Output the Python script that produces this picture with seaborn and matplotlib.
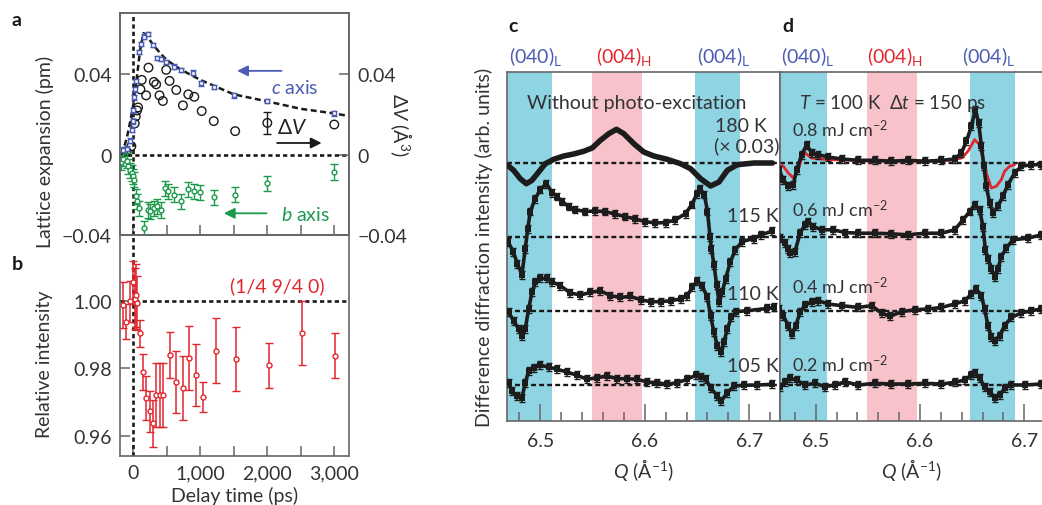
import numpy as np
import matplotlib
matplotlib.use("Agg")
import matplotlib.pyplot as plt
import seaborn as sns
from matplotlib.ticker import FixedLocator, NullFormatter

# ---------------- panel a: lattice expansion ----------------
c_t = [-190, -150, -100, -50, -25, -10, 0, 10, 25, 40, 90, 115, 160, 225, 300, 360, 410,
       490, 610, 710, 890, 1010, 1200, 1500, 2000, 3000]
c_v = [0.0022, 0.0025, 0.0030, 0.0070, 0.0125, 0.0165, 0.022, 0.0285, 0.0325, 0.0367, 0.051,
       0.055, 0.0588, 0.060, 0.0545, 0.048, 0.0475, 0.046, 0.0438, 0.0422, 0.0408, 0.0355,
       0.0338, 0.0295, 0.0267, 0.0205]
fit_t = [-175, -100, -50, 0, 50, 100, 150, 200, 300, 400, 500, 700, 1000, 1500, 2000, 2500, 3000, 3220]
fit_v = [0.0, 0.008, 0.016, 0.025, 0.038, 0.052, 0.0605, 0.059, 0.0545, 0.0505, 0.047, 0.0425,
         0.0372, 0.030, 0.0265, 0.0228, 0.0205, 0.0192]
dv_t = [-190, -150, -100, -30, 20, 35, 55, 70, 105, 125, 190, 225, 305, 340, 390, 440, 490, 540,
        640, 740, 820, 910, 1020, 1200, 1520, 2000, 3000]
dv_v = [0.0008, 0.0012, 0.0015, 0.0042, 0.0155, 0.019, 0.022, 0.0235, 0.0325, 0.0372, 0.0295,
        0.0433, 0.0362, 0.035, 0.0295, 0.0267, 0.0422, 0.0367, 0.0322, 0.0245, 0.030, 0.0288,
        0.0217, 0.0167, 0.0117, 0.0158, 0.015]
b_t = [-190, -150, -100, -75, -50, -25, 0, 15, 40, 50, 90, 165, 215, 255, 305, 355, 415, 475, 515,
       610, 710, 820, 910, 1000, 1200, 1520, 2000, 3000]
b_v = [-0.0038, -0.002, -0.003, -0.0058, -0.0078, -0.0092, -0.0108, -0.0125, -0.0208, -0.0233,
       -0.0267, -0.0367, -0.0275, -0.0283, -0.0267, -0.0258, -0.0275, -0.0167, -0.0183, -0.020,
       -0.0233, -0.0172, -0.0183, -0.0188, -0.0212, -0.020, -0.0142, -0.0087]

# ---------------- panel b: relative intensity (1/4 9/4 0) ----------------
i_t = [-153, -104, -50, -5, 20, 45, 60, 94, 144, 193, 243, 292, 342, 391, 441, 540, 639, 738,
       837, 936, 1035, 1233, 1530, 2025, 2520, 3015]
i_v = [0.9987, 0.9938, 0.9998, 1.0054, 1.0005, 1.0015, 0.9993, 0.9903, 0.9788, 0.9711, 0.9672,
       0.9637, 0.9721, 0.9721, 0.9721, 0.9839, 0.9760, 0.9741, 0.9830, 0.9780, 0.9714, 0.9852,
       0.9828, 0.9808, 0.9904, 0.9837]
i_err = [0.0068, 0.0052, 0.006, 0.0064, 0.009, 0.0094, 0.008, 0.004, 0.0054, 0.0065, 0.006, 0.007,
         0.0094, 0.0094, 0.0094, 0.0067, 0.0092, 0.0094, 0.0095, 0.0091, 0.0045, 0.0095, 0.0095,
         0.0067, 0.0095, 0.0067]

# ---------------- panel c: temperature series ----------------
q180 = [6.4687, 6.4744, 6.4808, 6.4866, 6.4920, 6.4984, 6.5048, 6.5128, 6.5224, 6.5319, 6.5415,
        6.5496, 6.5575, 6.5655, 6.5729, 6.5799, 6.5895, 6.5990, 6.6086, 6.6215, 6.6342, 6.6438,
        6.6534, 6.6630, 6.6710, 6.6790, 6.6886, 6.7045, 6.7221]
d180 = [-0.23, -0.73, -1.57, -2.07, -1.73, -0.9, -0.07, 0.37, 0.7, 0.9, 1.17, 1.5, 2.27, 2.93,
        3.37, 2.93, 1.93, 1.1, 0.7, 0.37, -0.07, -0.57, -1.57, -2.3, -1.9, -0.73, -0.17, 0.0, 0.0]
q115 = [6.4690, 6.4740, 6.4780, 6.4824, 6.4856, 6.4880, 6.4904, 6.4952, 6.5000, 6.5058, 6.5112,
        6.5160, 6.5210, 6.5270, 6.5330, 6.5430, 6.5520, 6.5620, 6.5710, 6.5810, 6.5910, 6.6000,
        6.6100, 6.6200, 6.6290, 6.6390, 6.6450, 6.6500, 6.6527, 6.6570, 6.6600, 6.6624, 6.6637,
        6.6662, 6.6687, 6.6710, 6.6742, 6.6774, 6.6820, 6.6868, 6.6932, 6.7045, 6.7110, 6.7221]
d115 = [-0.5, -1.5, -2.7, -3.8, -1.2, 0.8, 2.5, 3.8, 4.7, 5.3, 4.4, 4.0, 3.5, 3.0, 2.7, 2.5, 2.55,
        2.5, 2.25, 2.0, 1.75, 1.5, 1.35, 1.4, 1.65, 2.3, 3.2, 4.3, 4.8, 4.2, 2.5, 0.0, -1.2, -2.8,
        -4.8, -6.5, -5.5, -4.2, -2.5, -1.3, -0.5, -0.2, 0.15, 0.55]
q110 = [6.4696, 6.4744, 6.4792, 6.4824, 6.4856, 6.4888, 6.4920, 6.4952, 6.5000, 6.5064, 6.5112,
        6.5192, 6.5288, 6.5384, 6.5480, 6.5575, 6.5671, 6.5767, 6.5863, 6.5959, 6.6055, 6.6151,
        6.6246, 6.6342, 6.6406, 6.6454, 6.6502, 6.6550, 6.6598, 6.6630, 6.6662, 6.6694, 6.6726,
        6.6757, 6.6790, 6.6828, 6.6870, 6.6980, 6.7174, 6.7237]
d110 = [-0.17, -1.0, -1.83, -2.5, -1.83, 0.17, 1.83, 2.83, 3.23, 3.23, 2.9, 2.5, 1.77, 1.57, 1.83,
        2.0, 1.5, 1.33, 1.43, 1.1, 0.9, 0.9, 1.0, 1.17, 1.5, 2.33, 3.0, 2.5, 1.33, -0.5, -2.17,
        -3.5, -4.1, -3.17, -1.83, -0.67, -0.1, 0.0, 0.23, 0.33]
q105 = [6.4696, 6.4728, 6.4776, 6.4824, 6.4856, 6.4888, 6.4936, 6.5000, 6.5080, 6.5160, 6.5256,
        6.5352, 6.5448, 6.5543, 6.5639, 6.5735, 6.5831, 6.5927, 6.6023, 6.6119, 6.6215, 6.6310,
        6.6406, 6.6486, 6.6534, 6.6582, 6.6630, 6.6694, 6.6732, 6.6790, 6.6853, 6.6950, 6.7078, 6.7221]
d105 = [0.23, -0.6, -1.1, -1.27, 0.23, 1.4, 1.73, 1.97, 1.8, 1.57, 1.3, 0.97, 0.57, 0.73, 0.9, 0.63,
        0.63, 0.57, 0.3, 0.23, 0.07, 0.23, 0.57, 0.97, 0.83, 0.57, -0.27, -1.1, -1.6, -0.77, -0.1,
        -0.03, 0.0, 0.07]

# ---------------- panel d: fluence series at 100 K ----------------
q08 = [6.4649, 6.4690, 6.4738, 6.4786, 6.4818, 6.4866, 6.4914, 6.4962, 6.5025, 6.5121, 6.5249,
       6.5408, 6.5567, 6.5727, 6.5886, 6.6046, 6.6206, 6.6333, 6.6397, 6.6445, 6.6493, 6.6531,
       6.6563, 6.6589, 6.6613, 6.6636, 6.6668, 6.6700, 6.6747, 6.6795, 6.6843, 6.6907, 6.6971,
       6.7067, 6.7163]
d08 = [-0.67, -1.67, -2.33, -2.17, -0.67, 0.83, 1.83, 1.0, 0.83, 0.6, 0.4, 0.27, 0.27, 0.17, 0.27,
       0.17, 0.27, 0.4, 1.0, 2.17, 3.67, 5.33, 4.0, 1.67, -0.33, -2.33, -4.0, -5.0, -4.33, -3.33,
       -2.17, -1.0, -0.33, -0.17, -0.17]
qred = [6.4658, 6.4690, 6.4738, 6.4786, 6.4834, 6.4866, 6.4900, 6.4960, 6.5100, 6.5300, 6.5500,
        6.5700, 6.5900, 6.6100, 6.6300, 6.6400, 6.6460, 6.6524, 6.6572, 6.6604, 6.6636, 6.6684,
        6.6732, 6.6780, 6.6811, 6.6859, 6.6907]
dred = [-0.2, -0.33, -1.0, -1.5, -0.67, 0.5, 1.0, 0.5, 0.35, 0.3, 0.2, 0.25, 0.2, 0.2, 0.3, 0.5,
        1.17, 2.33, 1.83, 0.5, -1.0, -2.5, -2.33, -1.67, -0.83, -0.33, -0.17]
q06 = [6.4658, 6.4706, 6.4730, 6.4754, 6.4802, 6.4850, 6.4897, 6.4929, 6.4977, 6.5057, 6.5168,
       6.5280, 6.5408, 6.5567, 6.5727, 6.5886, 6.6046, 6.6206, 6.6333, 6.6413, 6.6477, 6.6524,
       6.6572, 6.6604, 6.6627, 6.6652, 6.6684, 6.6716, 6.6748, 6.6780, 6.6827, 6.6891, 6.7035, 6.7163]
d06 = [-0.17, -0.67, -1.2, -1.67, -1.5, 0.33, 1.17, 1.5, 1.0, 0.67, 0.67, 0.4, 0.33, 0.33, 0.27,
       0.17, 0.33, 0.33, 0.67, 1.67, 2.5, 3.17, 2.67, 1.0, -1.33, -2.2, -3.2, -4.0, -3.2, -2.0,
       -1.17, -0.33, -0.17, 0.17]
q04 = [6.4649, 6.4690, 6.4738, 6.4770, 6.4809, 6.4850, 6.4897, 6.4962, 6.5025, 6.5121, 6.5249,
       6.5408, 6.5536, 6.5632, 6.5711, 6.5823, 6.5950, 6.6078, 6.6206, 6.6333, 6.6429, 6.6493,
       6.6541, 6.6589, 6.6620, 6.6652, 6.6684, 6.6716, 6.6764, 6.6811, 6.6876, 6.6971, 6.7067, 6.7163]
d04 = [0.17, -0.5, -1.5, -2.33, -1.5, -0.17, 0.57, 0.83, 1.0, 0.67, 0.5, 0.33, 0.5, -0.23, -0.57,
       -0.1, 0.1, 0.17, 0.33, 0.67, 1.0, 1.67, 2.17, 1.5, 0.17, -1.5, -2.67, -3.0, -2.5, -1.5,
       -0.67, -0.23, 0.0, 0.17]
q02 = [6.4658, 6.4706, 6.4754, 6.4818, 6.4897, 6.4993, 6.5089, 6.5185, 6.5280, 6.5408, 6.5567,
       6.5727, 6.5886, 6.6046, 6.6206, 6.6333, 6.6429, 6.6493, 6.6524, 6.6572, 6.6620, 6.6668,
       6.6716, 6.6764, 6.6811, 6.6876, 6.7003, 6.7163]
d02 = [-0.17, 0.33, 0.67, 0.5, 0.0, 0.17, -0.17, 0.0, 0.33, 0.0, 0.17, 0.1, 0.1, 0.17, 0.1, 0.27,
       0.5, 1.0, 1.23, 0.67, -0.17, -0.67, -1.27, -1.0, -0.33, 0.0, 0.0, 0.1]

offsets = [22.2, 14.85, 7.43, 0.0]          # baselines, top to bottom
temp_labels = ["180 K", "115 K", "110 K", "105 K"]
fluence_labels = [r"0.8 mJ cm$^{-2}$", r"0.6 mJ cm$^{-2}$", r"0.4 mJ cm$^{-2}$", r"0.2 mJ cm$^{-2}$"]
band_lo = [6.40, 6.549, 6.648]
band_hi = [6.511, 6.597, 6.691]
peak_names = [r"(040)$_{\mathrm{L}}$", r"(004)$_{\mathrm{H}}$", r"(004)$_{\mathrm{L}}$"]

BLUE = "#4a5cb4"
GREEN = "#1b9a4c"
RED = "#e3262d"
CYAN = "#8fd4e3"
PINK = "#f7c2ca"
SPINE = "#666666"
INK = "#1c1c1c"
band_col = [CYAN, PINK, CYAN]
peak_col = [BLUE, RED, BLUE]

sns.set_theme(style="ticks")
plt.rcParams["font.family"] = ["Lato", "DejaVu Sans"]
plt.rcParams["mathtext.fontset"] = "custom"
plt.rcParams["mathtext.rm"] = "Lato"
plt.rcParams["mathtext.it"] = "Lato:italic"
plt.rcParams["mathtext.bf"] = "Lato:bold"
plt.rcParams["mathtext.fallback"] = "stixsans"
plt.rcParams["axes.edgecolor"] = SPINE
plt.rcParams["axes.linewidth"] = 1.2
plt.rcParams["text.color"] = "#333333"

W, H = 1042, 506
fig = plt.figure(figsize=(W / 100, H / 100), dpi=100)


def fx(x):
    return x / W


def fy(y):
    return 1 - y / H


ax_a = fig.add_axes([fx(120), fy(236), fx(229), 222 / H])
ax_b = fig.add_axes([fx(120), fy(457), fx(229), 221 / H])
ax_c = fig.add_axes([fx(507), fy(422), fx(273), 348.7 / H])
ax_d = fig.add_axes([fx(780), fy(422), fx(262), 348.7 / H])

TICK = 14
dash = dict(color="k", lw=1.9, ls=(0, (1.6, 1.2)))

# ---- panel a ----
ax_a.axhline(0, zorder=1, **dash)
ax_a.axvline(0, zorder=1, **dash)
sns.lineplot(x=fit_t, y=fit_v, ax=ax_a, color="k", lw=1.8, ls=(0, (2.4, 1.4)), zorder=2)
ax_a.errorbar(c_t, c_v, yerr=0.0011, fmt="s", ms=3.2, mfc="white", mec=BLUE, mew=1.0,
              ecolor=BLUE, elinewidth=1.0, capsize=2.5, zorder=4)
ax_a.errorbar(b_t, b_v, yerr=0.0038, fmt="o", ms=3.5, mfc="white", mec=GREEN, mew=1.0,
              ecolor=GREEN, elinewidth=1.0, capsize=3, zorder=4)
sns.scatterplot(x=dv_t, y=dv_v, ax=ax_a, marker="o", s=38, facecolor="none", edgecolor="k",
                linewidth=1.0, zorder=3)
ax_a.errorbar([dv_t[-2]], [dv_v[-2]], yerr=0.0053, fmt="none", ecolor="k", elinewidth=1.0,
              capsize=3, zorder=3)
ax_a.annotate("", xy=(1508, 0.0417), xytext=(2254, 0.0417),
              arrowprops=dict(arrowstyle="-|>", color=BLUE, lw=1.3, mutation_scale=16))
ax_a.text(2050, 0.0335, r"$c$ axis", color=BLUE, fontsize=14, va="center", ha="left")
ax_a.annotate("", xy=(2852, 0.0058), xytext=(2105, 0.0058),
              arrowprops=dict(arrowstyle="-|>", color="k", lw=1.3, mutation_scale=16))
ax_a.text(2150, 0.0140, r"$\Delta V$", color="#222222", fontsize=15, va="center", ha="left")
ax_a.annotate("", xy=(1310, -0.0292), xytext=(2030, -0.0292),
              arrowprops=dict(arrowstyle="-|>", color=GREEN, lw=1.3, mutation_scale=16))
ax_a.text(2210, -0.0295, r"$b$ axis", color=GREEN, fontsize=14, va="center", ha="left")

ax_a.set_xlim(-200, 3220)
ax_a.set_ylim(-0.04, 0.0705)
ax_a.xaxis.set_major_locator(FixedLocator([0, 500, 1000, 1500, 2000, 2500, 3000]))
ax_a.xaxis.set_major_formatter(NullFormatter())
ax_a.set_yticks([-0.04, 0, 0.04])
ax_a.set_yticklabels(["\u22120.04", "0", "0.04"])
ax_a.tick_params(axis="both", direction="in", length=7, width=1.1, color=SPINE,
                 labelsize=TICK, pad=6, labelcolor="#333333")
ax_a.tick_params(axis="x", bottom=True, top=False)
ax_a.set_xlabel("")
ax_a.set_ylabel("")
ax_r = ax_a.twinx()
ax_r.set_ylim(ax_a.get_ylim())
ax_r.set_yticks([-0.04, 0, 0.04])
ax_r.set_yticklabels(["\u22120.04", "0", "0.04"])
ax_r.tick_params(axis="y", direction="in", length=7, width=1.1, color=SPINE, labelsize=TICK,
                 pad=6, labelcolor="#333333")
for sp in ax_r.spines.values():
    sp.set_color(SPINE)

# ---- panel b ----
ax_b.axhline(1.0, zorder=1, **dash)
ax_b.axvline(0, zorder=1, **dash)
ax_b.errorbar(i_t, i_v, yerr=i_err, fmt="o", ms=3.6, mfc="white", mec=RED, mew=1.0,
              ecolor=RED, elinewidth=1.1, capsize=3, zorder=3)
ax_b.text(2142, 1.0044, "(1/4 9/4 0)", color=RED, fontsize=14, ha="center", va="center")
ax_b.set_xlim(-200, 3220)
ax_b.set_ylim(0.954, 1.0194)
ax_b.xaxis.set_major_locator(FixedLocator([0, 1000, 2000, 3000]))
ax_b.set_xticklabels(["0", "1,000", "2,000", "3,000"])
ax_b.xaxis.set_minor_locator(FixedLocator([500, 1500, 2500]))
ax_b.set_yticks([0.96, 0.98, 1.00])
ax_b.set_yticklabels(["0.96", "0.98", "1.00"])
ax_b.tick_params(axis="both", which="both", direction="in", length=7, width=1.1, color=SPINE,
                 labelsize=TICK, pad=6, labelcolor="#333333")
ax_b.tick_params(axis="x", which="both", top=False)
ax_b.tick_params(axis="y", right=False)

# ---- panels c and d ----
series_c = [(q180, d180), (q115, d115), (q110, d110), (q105, d105)]
series_d = [(q08, d08), (q06, d06), (q04, d04), (q02, d02)]

for ax, xlim in [(ax_c, (6.4681, 6.7294)), (ax_d, (6.4658, 6.717))]:
    for lo, hi, col in zip(band_lo, band_hi, band_col):
        ax.axvspan(lo, hi, color=col, lw=0, zorder=0)
    for off in offsets:
        ax.axhline(off, color="k", lw=1.7, ls=(0, (2.1, 1.3)), zorder=1)
    ax.set_xlim(*xlim)
    ax.set_ylim(-3.6, 31.27)
    ax.set_yticks([])
    ax.xaxis.set_major_locator(FixedLocator([6.5, 6.6, 6.7]))
    ax.set_xticklabels(["6.5", "6.6", "6.7"])
    ax.xaxis.set_minor_locator(FixedLocator([6.48, 6.52, 6.54, 6.56, 6.58, 6.62, 6.64,
                                             6.66, 6.68, 6.72]))
    ax.tick_params(axis="x", which="major", direction="in", length=12, width=1.1, color=SPINE,
                   labelsize=TICK, pad=8, labelcolor="#333333", top=False)
    ax.tick_params(axis="x", which="minor", direction="in", length=6.5, width=1.1, color=SPINE,
                   top=False)
    ax.set_xlabel(r"$Q$ (Å$^{-1}$)", fontsize=14, labelpad=5, color="#333333")

# 180 K reference: smooth thick line, scaled x0.03
sns.lineplot(x=q180, y=np.array(d180) + offsets[0], ax=ax_c, color=INK, lw=4.0, zorder=3)
for (q, d), off in zip(series_c[1:], offsets[1:]):
    y = np.array(d) + off
    sns.lineplot(x=q, y=y, ax=ax_c, color=INK, lw=2.6, marker="s", markersize=4.5,
                 markeredgewidth=0, zorder=3)
    ax_c.errorbar(q, y, yerr=0.4, fmt="none", ecolor=INK, elinewidth=1.1, capsize=2.4, zorder=3)

sns.lineplot(x=qred, y=np.array(dred) + offsets[0], ax=ax_d, color=RED, lw=2.0, zorder=2)
for (q, d), off in zip(series_d, offsets):
    y = np.array(d) + off
    sns.lineplot(x=q, y=y, ax=ax_d, color=INK, lw=2.6, marker="s", markersize=4.5,
                 markeredgewidth=0, zorder=3)
    ax_d.errorbar(q, y, yerr=0.4, fmt="none", ecolor=INK, elinewidth=1.1, capsize=2.4, zorder=3)

ax_d.spines["right"].set_visible(False)

# panel c annotations
ax_c.text(6.5925, 28.27, "Without photo-excitation", fontsize=14, ha="center", va="center")
ax_c.text(6.6923, 25.93, temp_labels[0], fontsize=14, ha="center", va="center")
ax_c.text(6.6978, 23.93, "(\u00d7 0.03)", fontsize=14, ha="center", va="center")
for lab, yy in zip(temp_labels[1:], [16.93, 9.1, 1.93]):
    ax_c.text(6.7035, yy, lab, fontsize=14, ha="center", va="center")

# panel d annotations
ax_d.text(6.5735, 28.27, r"$T$ = 100 K  $\Delta t$ = 150 ps", fontsize=13.5, ha="center", va="center")
for lab, yy in zip(fluence_labels, [25.6, 17.6, 9.93, 2.1]):
    ax_d.text(6.4770, yy, lab, fontsize=13, ha="left", va="center")

# peak names above c and d
for xs in ([535.5, 624, 724], [807.5, 895, 989]):
    for x, name, col in zip(xs, peak_names, peak_col):
        fig.text(fx(x), fy(56), name, color=col, fontsize=14, ha="center", va="center")

# panel letters
for lab, x, y in [("a", 17, 20), ("b", 17, 265), ("c", 513, 27), ("d", 788, 27)]:
    fig.text(fx(x), fy(y), lab, fontsize=14, fontweight="bold", color="k", ha="center", va="center")

# axis titles
fig.text(fx(45), fy(152), "Lattice expansion (pm)", rotation=90, fontsize=14, ha="center", va="center")
fig.text(fx(45), fy(364), "Relative intensity", rotation=90, fontsize=14, ha="center", va="center")
fig.text(fx(401), fy(125), r"$\Delta V$ (Å$^3$)", rotation=270, fontsize=14, ha="center", va="center")
fig.text(fx(235), fy(496), "Delay time (ps)", fontsize=14, ha="center", va="center")
fig.text(fx(484), fy(247), "Difference diffraction intensity (arb. units)", rotation=90,
         fontsize=14, ha="center", va="center")

fig.savefig("out.png", dpi=100)
